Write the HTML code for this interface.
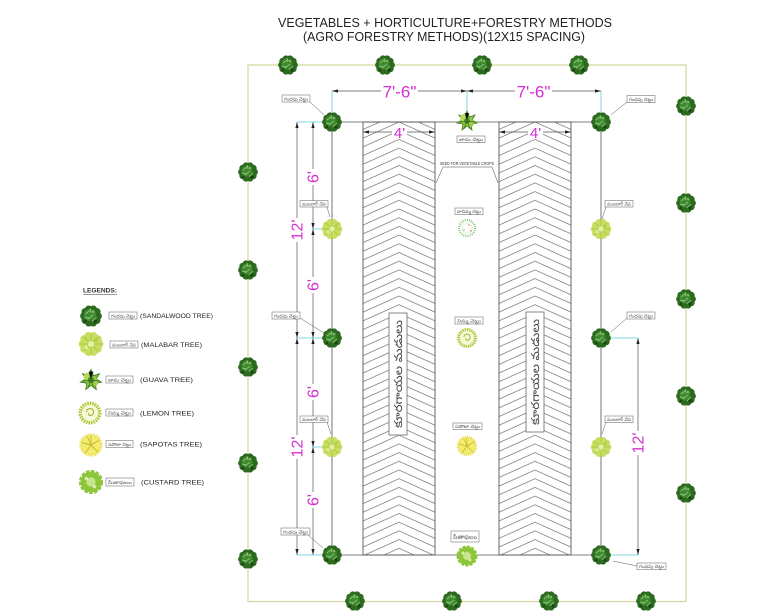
<!DOCTYPE html>
<html><head><meta charset="utf-8"><style>
html,body{margin:0;padding:0;background:#fff;}
svg{display:block;}
.t{font-family:"Liberation Sans",sans-serif;}
.tel{font-family:"Liberation Sans","Noto Sans CJK JP",sans-serif;font-size:4.5px;fill:#555;}
.m{font-family:"Liberation Sans",sans-serif;fill:#d42fd0;}
</style></head><body>
<svg width="768" height="614" viewBox="0 0 768 614" xmlns="http://www.w3.org/2000/svg">
<defs>
<pattern id="chL" patternUnits="userSpaceOnUse" x="363" y="122" width="72" height="8.7">
<path d="M0 7.5 L36 -8.7 L72 7.5 M0 16.2 L36 0 L72 16.2 M0 24.9 L36 8.7 L72 24.9" fill="none" stroke="#555" stroke-width="0.6"/>
</pattern>
<pattern id="chR" patternUnits="userSpaceOnUse" x="499" y="122" width="72" height="8.7">
<path d="M0 7.5 L36 -8.7 L72 7.5 M0 16.2 L36 0 L72 16.2 M0 24.9 L36 8.7 L72 24.9" fill="none" stroke="#555" stroke-width="0.6"/>
</pattern>
<path id="au" d="M0 0 L-1.6 6 L1.6 6Z" fill="#222"/>
<path id="ad" d="M0 0 L-1.6 -6 L1.6 -6Z" fill="#222"/>
<path id="al" d="M0 0 L6 -1.6 L6 1.6Z" fill="#222"/>
<path id="ar" d="M0 0 L-6 -1.6 L-6 1.6Z" fill="#222"/>
<g id="sw">
<g fill="#2c6a1f">
<circle r="7.5"/>
<circle cx="6.5" cy="0" r="3.4"/><circle cx="5.26" cy="3.82" r="3.4"/><circle cx="2.01" cy="6.18" r="3.4"/>
<circle cx="-2.01" cy="6.18" r="3.4"/><circle cx="-5.26" cy="3.82" r="3.4"/><circle cx="-6.5" cy="0" r="3.4"/>
<circle cx="-5.26" cy="-3.82" r="3.4"/><circle cx="-2.01" cy="-6.18" r="3.4"/><circle cx="2.01" cy="-6.18" r="3.4"/>
<circle cx="5.26" cy="-3.82" r="3.4"/>
</g>
<circle cx="-1" cy="-1" r="5.5" fill="#3e8a2e"/>
<path d="M-5 -2 L-1 -5 M-3 3 L2 -1 M1 5 L5 1 M-6 1 L-2 2 M-1 -7 L0 -3" stroke="#a8d196" stroke-width="0.7"/>
<circle cx="2" cy="-4" r="1.3" fill="#7ab462"/>
<circle cx="4" cy="5" r="1.6" fill="#1b4512"/>
<circle cx="-5" cy="5" r="1.2" fill="#1b4512"/>
</g>
<g id="mb">
<g fill="#c8de62">
<circle r="8"/>
<circle cx="7" cy="0" r="3.3"/><circle cx="5.66" cy="4.11" r="3.3"/><circle cx="2.16" cy="6.66" r="3.3"/>
<circle cx="-2.16" cy="6.66" r="3.3"/><circle cx="-5.66" cy="4.11" r="3.3"/><circle cx="-7" cy="0" r="3.3"/>
<circle cx="-5.66" cy="-4.11" r="3.3"/><circle cx="-2.16" cy="-6.66" r="3.3"/><circle cx="2.16" cy="-6.66" r="3.3"/>
<circle cx="5.66" cy="-4.11" r="3.3"/>
</g>
<path d="M0 -9 V9 M-9 0 H9 M-6 -6 L6 6 M-6 6 L6 -6" stroke="#a4c23a" stroke-width="0.7"/>
<circle r="2.5" fill="#e4f0a8"/>
<circle cx="-4" cy="3" r="1.5" fill="#dff0a0"/>
<circle cx="4" cy="-3" r="1.5" fill="#b0cc48"/>
</g>
<g id="gv">
<path d="M0,-10 L2.5,-4 L8,-6 L5,-1 L10,2 L4,3 L5,9 L0,5 L-5,9 L-4,3 L-10,2 L-5,-1 L-8,-6 L-2.5,-4 Z" fill="#8cc63f" stroke="#3e7a1f" stroke-width="0.8"/>
<circle cx="-3" cy="-3" r="4" fill="#b8d85a"/>
<circle cx="3" cy="2" r="4" fill="#9ccc4a"/>
<circle r="3" fill="#4e8a2a"/>
<path d="M-2 -8 L0 0 L2 -8 M-8 1 L0 0 M8 1 L0 0 M0 0 L-3 8 M0 0 L3 8" stroke="#2f6a1a" stroke-width="0.7"/>
</g>
<g id="lm">
<circle r="8.5" fill="#f6f8d8" stroke="#b0c83a" stroke-width="3" stroke-dasharray="1.4 0.8"/>
<path d="M-3 -1 C -3 -5, 4 -5, 3 0 C 2 3, -2 3, -1 0" fill="none" stroke="#a0b830" stroke-width="1"/>
</g>
<g id="sp">
<circle r="9" fill="#f3ec6e" stroke="#e6dc58" stroke-width="2.5" stroke-dasharray="1 1"/>
<path d="M0 0 L0 -8 M0 0 L7 -4 M0 0 L6 6 M0 0 L-5 7 M0 0 L-8 -2 M0 0 L-3 -7" stroke="#c7b430" stroke-width="0.8"/>
</g>
<g id="cu">
<circle r="9" fill="#8dc63a" stroke="#8dc63a" stroke-width="3" stroke-dasharray="3 1.2"/>
<circle r="4" fill="#c6e58c"/>
<circle cx="-4" cy="-3" r="1.5" fill="#d8efb0"/>
<circle cx="3" cy="4" r="1.5" fill="#d8efb0"/>
</g>
<g id="dt">
<circle r="8" fill="#fff" stroke="#6cb85c" stroke-width="2.2" stroke-dasharray="0.8 1.4"/>
<circle r="5" fill="none" stroke="#9ad08a" stroke-width="1.2" stroke-dasharray="0.6 1.6"/>
<circle cx="-3" cy="2" r="0.6" fill="#d04040"/>
<circle cx="2" cy="-3" r="0.6" fill="#d04040"/>
<circle cx="4" cy="3" r="0.6" fill="#d04040"/>
</g>
</defs>

<!-- title -->
<text class="t" x="445" y="27" font-size="12.5" fill="#222" text-anchor="middle" textLength="334" lengthAdjust="spacingAndGlyphs">VEGETABLES + HORTICULTURE+FORESTRY METHODS</text>
<text class="t" x="444" y="41" font-size="12.5" fill="#222" text-anchor="middle" textLength="282" lengthAdjust="spacingAndGlyphs">(AGRO FORESTRY METHODS)(12X15 SPACING)</text>

<!-- border -->
<rect x="248" y="65" width="438" height="536.5" fill="none" stroke="#d6d49a" stroke-width="1.2"/>

<!-- beds -->
<rect x="363" y="122" width="72" height="433" fill="url(#chL)" stroke="#444" stroke-width="0.8"/>
<rect x="499" y="122" width="72" height="433" fill="url(#chR)" stroke="#444" stroke-width="0.8"/>

<!-- main lines -->
<g stroke="#555" stroke-width="0.8" fill="none">
<path d="M332 122 H601 M332 555 H601 M332 122 V555 M601 122 V555"/>
<path d="M297 122 V555 M313 122 V555 M638 338 V555" stroke-width="0.7"/>
<path d="M332 91 H601 M363 132 H435 M499 132 H571" stroke-width="0.7"/>
</g>

<!-- cyan extension lines -->
<g stroke="#7fd8e0" stroke-width="1">
<path d="M297 122 H332 M313 229 H332 M297 338 H332 M313 447 H332 M297 555 H332"/>
<path d="M601 338 H638 M601 555 H638"/>
<path d="M332 91 V122 M467 91 V112 M601 91 V122"/>
</g>

<!-- arrowheads -->
<use href="#au" x="297" y="122"/><use href="#ad" x="297" y="338"/><use href="#au" x="297" y="338"/><use href="#ad" x="297" y="555"/>
<use href="#au" x="313" y="122"/><use href="#ad" x="313" y="229"/><use href="#au" x="313" y="229"/>
<use href="#ad" x="313" y="338"/><use href="#au" x="313" y="338"/><use href="#ad" x="313" y="447"/><use href="#au" x="313" y="447"/><use href="#ad" x="313" y="555"/>
<use href="#au" x="638" y="338"/><use href="#ad" x="638" y="555"/>
<use href="#al" x="332" y="91"/><use href="#ar" x="467" y="91"/><use href="#al" x="467" y="91"/><use href="#ar" x="601" y="91"/>
<use href="#al" x="363" y="132"/><use href="#ar" x="435" y="132"/><use href="#al" x="499" y="132"/><use href="#ar" x="571" y="132"/>

<!-- dimension texts -->
<rect x="381" y="84" width="37" height="15" fill="#fff"/>
<text class="m" x="399.5" y="97.5" font-size="17" text-anchor="middle">7'-6"</text>
<rect x="515" y="84" width="37" height="15" fill="#fff"/>
<text class="m" x="533.5" y="97.5" font-size="17" text-anchor="middle">7'-6"</text>
<rect x="392" y="126" width="15" height="12" fill="#fff"/>
<text class="m" x="399.5" y="138" font-size="15" text-anchor="middle">4'</text>
<rect x="528" y="126" width="15" height="12" fill="#fff"/>
<text class="m" x="535.5" y="138" font-size="15" text-anchor="middle">4'</text>

<g>
<rect x="308" y="169" width="11" height="16" fill="#fff"/>
<text class="m" x="313" y="177" font-size="16" text-anchor="middle" transform="rotate(-90 313 177) translate(0 5.5)">6'</text>
<rect x="308" y="277" width="11" height="16" fill="#fff"/>
<text class="m" x="313" y="285" font-size="16" text-anchor="middle" transform="rotate(-90 313 285) translate(0 5.5)">6'</text>
<rect x="308" y="384" width="11" height="16" fill="#fff"/>
<text class="m" x="313" y="392" font-size="16" text-anchor="middle" transform="rotate(-90 313 392) translate(0 5.5)">6'</text>
<rect x="308" y="492" width="11" height="16" fill="#fff"/>
<text class="m" x="313" y="500" font-size="16" text-anchor="middle" transform="rotate(-90 313 500) translate(0 5.5)">6'</text>
<rect x="292" y="218" width="11" height="24" fill="#fff"/>
<text class="m" x="297" y="230" font-size="16" text-anchor="middle" transform="rotate(-90 297 230) translate(0 5.5)">12'</text>
<rect x="292" y="435" width="11" height="24" fill="#fff"/>
<text class="m" x="297" y="447" font-size="16" text-anchor="middle" transform="rotate(-90 297 447) translate(0 5.5)">12'</text>
<rect x="633" y="431" width="11" height="24" fill="#fff"/>
<text class="m" x="638" y="443" font-size="16" text-anchor="middle" transform="rotate(-90 638 443) translate(0 5.5)">12'</text>
</g>

<!-- seed label -->
<rect x="437" y="158" width="60" height="9" fill="#fff"/>
<text class="t" x="467" y="165" font-size="4.6" fill="#333" text-anchor="middle" textLength="54" lengthAdjust="spacingAndGlyphs">SEED FOR VEGETABLE CROPS</text>
<path d="M436 183 L443 167 H492 L498 183" fill="none" stroke="#444" stroke-width="0.5"/>

<!-- bed vertical labels -->
<rect x="389" y="313" width="18" height="122" fill="#fff" stroke="#555" stroke-width="0.7"/>
<text class="t" x="398" y="374" font-size="11" fill="#444" text-anchor="middle" transform="rotate(-90 398 374) translate(0 4)" textLength="108" lengthAdjust="spacingAndGlyphs" style="font-family:'Liberation Sans','Noto Sans CJK JP',sans-serif">కూరగాయల మడులు</text>
<rect x="526" y="312" width="18" height="120" fill="#fff" stroke="#555" stroke-width="0.7"/>
<text class="t" x="535" y="372" font-size="11" fill="#444" text-anchor="middle" transform="rotate(-90 535 372) translate(0 4)" textLength="106" lengthAdjust="spacingAndGlyphs" style="font-family:'Liberation Sans','Noto Sans CJK JP',sans-serif">కూరగాయల మడులు</text>

<!-- leaders -->
<g stroke="#555" stroke-width="0.5" fill="none">
<path d="M310 102 L324 115"/>
<path d="M627 102 L611 115"/>
<path d="M327 207 L330 217"/>
<path d="M300 318 L324 333"/>
<path d="M627 318 L611 332"/>
<path d="M327 422 L331 434"/>
<path d="M606 207 L602 219"/>
<path d="M606 422 L602 434"/>
<path d="M308 535 L323 548"/>
<path d="M637 566 L613 561"/>
</g>

<!-- tag boxes -->
<g fill="#fff" stroke="#777" stroke-width="0.6">
<rect x="282" y="95" width="28" height="7"/>
<rect x="627" y="95.5" width="28" height="7"/>
<rect x="457" y="136" width="28" height="6.5"/>
<rect x="300" y="200.5" width="28" height="6.5"/>
<rect x="605" y="200.5" width="28" height="6.5"/>
<rect x="455" y="208" width="28" height="6.5"/>
<rect x="272" y="312" width="28" height="7"/>
<rect x="627" y="312" width="28" height="7"/>
<rect x="455" y="317" width="28" height="7"/>
<rect x="300" y="416" width="28" height="6.5"/>
<rect x="605" y="416" width="28" height="6.5"/>
<rect x="453" y="423" width="29" height="6.5"/>
<rect x="281" y="528" width="29" height="7"/>
<rect x="451" y="531" width="28" height="11"/>
<rect x="637" y="563" width="29" height="6.5"/>
</g>
<g class="tel">
<text x="284" y="100.5" textLength="24" lengthAdjust="spacingAndGlyphs">గంధపు చెట్టు</text>
<text x="629" y="101" textLength="24" lengthAdjust="spacingAndGlyphs">గంధపు చెట్టు</text>
<text x="459" y="141" textLength="24" lengthAdjust="spacingAndGlyphs">జామ చెట్టు</text>
<text x="302" y="205.5" textLength="24" lengthAdjust="spacingAndGlyphs">మలబార్ వేప</text>
<text x="607" y="205.5" textLength="24" lengthAdjust="spacingAndGlyphs">మలబార్ వేప</text>
<text x="457" y="213" textLength="24" lengthAdjust="spacingAndGlyphs">దానిమ్మ చెట్టు</text>
<text x="274" y="317.5" textLength="24" lengthAdjust="spacingAndGlyphs">గంధపు చెట్టు</text>
<text x="629" y="317.5" textLength="24" lengthAdjust="spacingAndGlyphs">గంధపు చెట్టు</text>
<text x="457" y="322.5" textLength="24" lengthAdjust="spacingAndGlyphs">నిమ్మ చెట్టు</text>
<text x="302" y="421" textLength="24" lengthAdjust="spacingAndGlyphs">మలబార్ వేప</text>
<text x="607" y="421" textLength="24" lengthAdjust="spacingAndGlyphs">మలబార్ వేప</text>
<text x="455" y="428" textLength="25" lengthAdjust="spacingAndGlyphs">సపోటా చెట్టు</text>
<text x="283" y="533.5" textLength="25" lengthAdjust="spacingAndGlyphs">గంధపు చెట్టు</text>
<text x="453" y="539" font-size="6" textLength="24" lengthAdjust="spacingAndGlyphs">సీతాఫలం</text>
<text x="639" y="568" textLength="25" lengthAdjust="spacingAndGlyphs">గంధపు చెట్టు</text>
</g>

<!-- border trees -->
<use href="#sw" x="288" y="65"/><use href="#sw" x="385" y="65"/><use href="#sw" x="482" y="65"/><use href="#sw" x="579" y="65"/>
<use href="#sw" x="248" y="172"/><use href="#sw" x="248" y="270"/><use href="#sw" x="248" y="367"/><use href="#sw" x="248" y="463"/><use href="#sw" x="248" y="559"/>
<use href="#sw" x="686" y="106"/><use href="#sw" x="686" y="203"/><use href="#sw" x="686" y="299"/><use href="#sw" x="686" y="396"/><use href="#sw" x="686" y="493"/>
<use href="#sw" x="355" y="601"/><use href="#sw" x="452" y="601"/><use href="#sw" x="549" y="601"/><use href="#sw" x="646" y="601"/>

<!-- column trees -->
<use href="#sw" x="332" y="122"/><use href="#mb" x="332" y="229"/><use href="#sw" x="332" y="338"/><use href="#mb" x="332" y="447"/><use href="#sw" x="332" y="555"/>
<use href="#sw" x="601" y="122"/><use href="#mb" x="601" y="229"/><use href="#sw" x="601" y="338"/><use href="#mb" x="601" y="447"/><use href="#sw" x="601" y="555"/>
<use href="#gv" x="467" y="121"/><use href="#dt" x="467" y="228"/><use href="#lm" x="467" y="338"/><use href="#sp" x="467" y="446"/><use href="#cu" x="467" y="556"/>

<!-- legend -->
<text class="t" x="83" y="292.5" font-size="6" font-weight="bold" fill="#333" textLength="34" lengthAdjust="spacingAndGlyphs">LEGENDS:</text>
<path d="M83 294.5 H117" stroke="#333" stroke-width="0.5"/>
<g transform="translate(91 316) scale(1.1)"><use href="#sw"/></g>
<g transform="translate(91 344) scale(1.2)"><use href="#mb"/></g>
<g transform="translate(91 380) scale(1.05)"><use href="#gv"/></g>
<g transform="translate(90 413) scale(1.15)"><use href="#lm"/></g>
<g transform="translate(91 445) scale(1.15)"><use href="#sp"/></g>
<g transform="translate(91 482) scale(1.15)"><use href="#cu"/></g>
<g fill="#fff" stroke="#777" stroke-width="0.6">
<rect x="109" y="312" width="28" height="7"/>
<rect x="110" y="341" width="28" height="7"/>
<rect x="106" y="376" width="27" height="7"/>
<rect x="106" y="409" width="27" height="7"/>
<rect x="106" y="440.5" width="27" height="7"/>
<rect x="106" y="478" width="28" height="8"/>
</g>
<g class="tel">
<text x="111" y="317.5" textLength="24" lengthAdjust="spacingAndGlyphs">గంధపు చెట్టు</text>
<text x="112" y="346.5" textLength="24" lengthAdjust="spacingAndGlyphs">మలబార్ వేప</text>
<text x="108" y="381.5" textLength="23" lengthAdjust="spacingAndGlyphs">జామ చెట్టు</text>
<text x="108" y="414.5" textLength="23" lengthAdjust="spacingAndGlyphs">నిమ్మ చెట్టు</text>
<text x="108" y="446" textLength="23" lengthAdjust="spacingAndGlyphs">సపోటా చెట్టు</text>
<text x="108" y="484" textLength="24" lengthAdjust="spacingAndGlyphs">సీతాఫలం</text>
</g>
<g class="t" font-size="6.5" fill="#222">
<text x="140" y="318" textLength="73" lengthAdjust="spacingAndGlyphs">(SANDALWOOD TREE)</text>
<text x="141" y="347" textLength="61" lengthAdjust="spacingAndGlyphs">(MALABAR TREE)</text>
<text x="140" y="382" textLength="53" lengthAdjust="spacingAndGlyphs">(GUAVA TREE)</text>
<text x="140" y="415.5" textLength="54" lengthAdjust="spacingAndGlyphs">(LEMON TREE)</text>
<text x="140" y="446.5" textLength="62" lengthAdjust="spacingAndGlyphs">(SAPOTAS TREE)</text>
<text x="141" y="484.5" textLength="63" lengthAdjust="spacingAndGlyphs">(CUSTARD TREE)</text>
</g>
</svg>
</body></html>
